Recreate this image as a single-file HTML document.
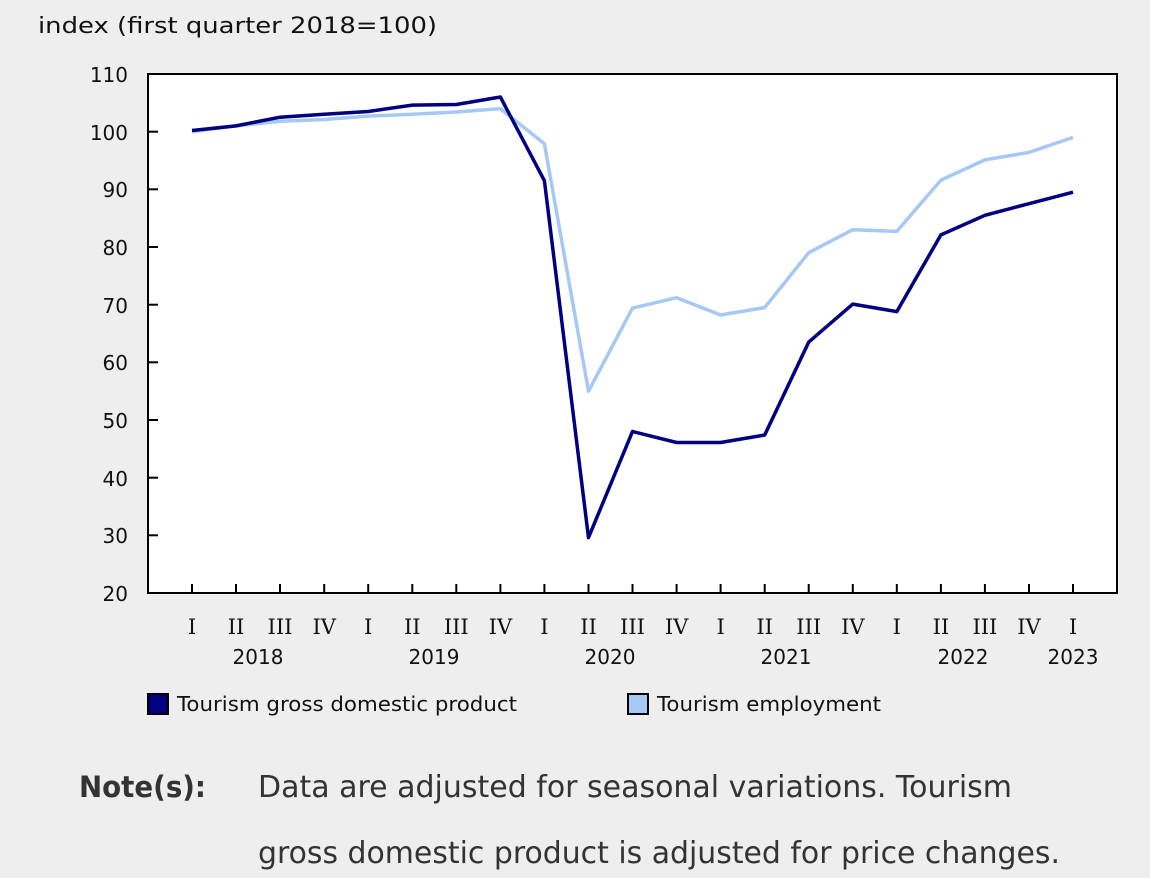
<!DOCTYPE html>
<html><head><style>
html,body{margin:0;padding:0;background:#eeeeee;}
body{width:1150px;height:878px;overflow:hidden;font-family:"DejaVu Sans","Liberation Sans",sans-serif;}
</style></head><body>
<svg width="1150" height="878" xmlns="http://www.w3.org/2000/svg" style="display:block">
<rect width="1150" height="878" fill="#eeeeee"/>
<text x="38" y="33" font-size="22" fill="#111" textLength="399" lengthAdjust="spacingAndGlyphs">index (first quarter 2018=100)</text>
<rect x="148" y="74" width="969" height="519" fill="#fff" stroke="#000" stroke-width="2"/>
<g font-size="20" fill="#111" text-anchor="end">
<text x="128" y="82">110</text><text x="128" y="140">100</text><text x="128" y="197">90</text>
<text x="128" y="255">80</text><text x="128" y="313">70</text><text x="128" y="370">60</text>
<text x="128" y="428">50</text><text x="128" y="486">40</text><text x="128" y="543">30</text>
<text x="128" y="601">20</text>
</g>
<g stroke="#000" stroke-width="2">
<line x1="148" y1="131.7" x2="158" y2="131.7"/><line x1="148" y1="189.3" x2="158" y2="189.3"/>
<line x1="148" y1="247" x2="158" y2="247"/><line x1="148" y1="304.7" x2="158" y2="304.7"/>
<line x1="148" y1="362.3" x2="158" y2="362.3"/><line x1="148" y1="420" x2="158" y2="420"/>
<line x1="148" y1="477.7" x2="158" y2="477.7"/><line x1="148" y1="535.3" x2="158" y2="535.3"/>
<line x1="192" y1="584" x2="192" y2="593"/><line x1="236" y1="584" x2="236" y2="593"/><line x1="280" y1="584" x2="280" y2="593"/><line x1="324.2" y1="584" x2="324.2" y2="593"/><line x1="368.2" y1="584" x2="368.2" y2="593"/><line x1="412.3" y1="584" x2="412.3" y2="593"/><line x1="456.3" y1="584" x2="456.3" y2="593"/><line x1="500.4" y1="584" x2="500.4" y2="593"/><line x1="544.4" y1="584" x2="544.4" y2="593"/><line x1="588.5" y1="584" x2="588.5" y2="593"/><line x1="632.5" y1="584" x2="632.5" y2="593"/><line x1="676.6" y1="584" x2="676.6" y2="593"/><line x1="720.6" y1="584" x2="720.6" y2="593"/><line x1="764.7" y1="584" x2="764.7" y2="593"/><line x1="808.7" y1="584" x2="808.7" y2="593"/><line x1="852.8" y1="584" x2="852.8" y2="593"/><line x1="896.8" y1="584" x2="896.8" y2="593"/><line x1="940.9" y1="584" x2="940.9" y2="593"/><line x1="984.9" y1="584" x2="984.9" y2="593"/><line x1="1029" y1="584" x2="1029" y2="593"/><line x1="1073" y1="584" x2="1073" y2="593"/>
</g>
<g font-size="21" fill="#111" text-anchor="middle" font-family="'DejaVu Serif','Liberation Serif',serif">
<text x="192" y="634">I</text><text x="236" y="634">II</text><text x="280" y="634">III</text><text x="324.2" y="634">IV</text>
<text x="368.2" y="634">I</text><text x="412.3" y="634">II</text><text x="456.3" y="634">III</text><text x="500.4" y="634">IV</text>
<text x="544.4" y="634">I</text><text x="588.5" y="634">II</text><text x="632.5" y="634">III</text><text x="676.6" y="634">IV</text>
<text x="720.6" y="634">I</text><text x="764.7" y="634">II</text><text x="808.7" y="634">III</text><text x="852.8" y="634">IV</text>
<text x="896.8" y="634">I</text><text x="940.9" y="634">II</text><text x="984.9" y="634">III</text><text x="1029" y="634">IV</text>
<text x="1073" y="634">I</text>
</g>
<g font-size="20" fill="#111" text-anchor="middle">
<text x="258" y="664">2018</text><text x="434" y="664">2019</text><text x="610" y="664">2020</text>
<text x="786" y="664">2021</text><text x="963" y="664">2022</text><text x="1073" y="664">2023</text>
</g>
<polyline fill="none" stroke="#a6c8f5" stroke-width="3.5" stroke-linejoin="round" points="192,131.6 236,125.9 280,121.3 324.2,119.5 368.2,116.1 412.3,114.3 456.3,112 500.4,108.6 544.4,143.8 588.5,391.2 632.5,308.1 676.6,297.7 720.6,315 764.7,307.5 808.7,252.7 852.8,229.7 896.8,231.4 940.9,180.1 984.9,159.9 1029,152.4 1073,137.4"/>
<polyline fill="none" stroke="#000080" stroke-width="3.5" stroke-linejoin="round" points="192,130.5 236,125.9 280,117.2 324.2,114.3 368.2,111.5 412.3,105.1 456.3,104.5 500.4,97 544.4,180.7 588.5,537.6 632.5,431.5 676.6,442.5 720.6,442.5 764.7,435 808.7,342.1 852.8,304.1 896.8,311.6 940.9,234.9 984.9,215.3 1029,203.7 1073,192.2"/>
<rect x="148" y="694" width="20" height="20" fill="#000080" stroke="#000" stroke-width="2"/>
<text x="177" y="711" font-size="20" fill="#111" textLength="340" lengthAdjust="spacingAndGlyphs">Tourism gross domestic product</text>
<rect x="628" y="694" width="20" height="20" fill="#a6c8f5" stroke="#000" stroke-width="2"/>
<text x="657" y="711" font-size="20" fill="#111" textLength="224" lengthAdjust="spacingAndGlyphs">Tourism employment</text>
<text x="79" y="797" font-size="29" font-weight="bold" fill="#333" textLength="127" lengthAdjust="spacingAndGlyphs">Note(s):</text>
<text x="258" y="797" font-size="30" fill="#333" textLength="754" lengthAdjust="spacingAndGlyphs">Data are adjusted for seasonal variations. Tourism</text>
<text x="258" y="863" font-size="30" fill="#333" textLength="802" lengthAdjust="spacingAndGlyphs">gross domestic product is adjusted for price changes.</text>
</svg>
</body></html>
